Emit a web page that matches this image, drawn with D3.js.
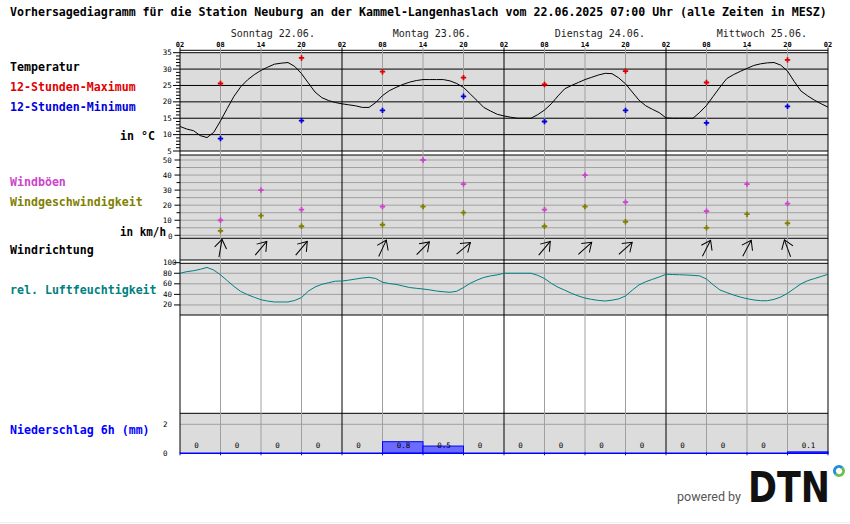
<!DOCTYPE html>
<html><head><meta charset="utf-8">
<script src="https://cdn.jsdelivr.net/npm/d3@7"></script>
<style>body{margin:0;background:#fff}svg{display:block}</style>
</head><body>
<script>
// ---------- DATA ----------
const titleText = "Vorhersagediagramm für die Station Neuburg an der Kammel-Langenhaslach vom 22.06.2025 07:00 Uhr (alle Zeiten in MESZ)";
const timeLabels = ["02","08","14","20","02","08","14","20","02","08","14","20","02","08","14","20","02"];
const dayLabels = ["Sonntag 22.06.","Montag 23.06.","Dienstag 24.06.","Mittwoch 25.06."];
// hourly temperature, hours since Sunday 02:00
const temperature = [12.5,11.7,11.2,9.7,9.1,10.7,14.2,18.0,21.7,24.6,26.7,28.3,29.6,30.6,31.5,31.8,32.0,30.8,28.6,25.8,23.0,21.3,20.4,19.8,
  19.4,19.1,18.8,18.3,18.3,19.8,21.9,23.4,24.4,25.3,26.0,26.5,26.8,26.8,26.8,26.8,26.4,25.6,24.4,22.4,20.4,18.3,17.2,16.2,
  15.7,15.3,15.0,15.0,15.0,16.1,17.5,19.4,21.8,24.0,25.0,25.9,26.8,27.5,28.2,28.7,28.6,27.3,25.5,23.0,20.5,18.8,17.7,16.7,
  15.1,15.0,15.0,15.0,15.0,16.8,18.9,21.7,24.5,27.1,28.3,29.3,30.2,31.1,31.6,31.9,32.0,31.2,29.4,26.2,23.3,21.8,20.5,19.4,18.4];
const extremeHours = [6,18,30,42,54,66,78,90];
const tMax = [25.6,33.4,29.2,27.4,25.3,29.4,25.9,32.8];
const tMin = [8.8,14.3,17.4,21.7,14.0,17.4,13.6,18.6];
const windHours = [6,12,18,30,36,42,54,60,66,78,84,90];
const gusts = [10,30,17,19,50,34,17,40,22,16,34,21];
const windSpeed = [3,13,6,7,19,15,6,19,9,5,14,8];
const windDir = [190,220,220,205,225,230,220,228,228,207,208,160]; // direction wind comes from
const humidity = [80,83,84.8,87.5,91,86,77,66,55,45.5,39.5,34.5,29.8,27.3,25.6,25.6,25.6,28.5,34,46,54,59,62,65,
  65.3,67,69,71,72.3,70,63,60.5,59,56,53,51.5,50.2,48.5,46.4,45,44,46,53,61,67,72,75,77,
  80,80,80,80,80,76,70,61,53.5,48,42,37,33,30.5,28.5,27.5,29,31.5,37,48,58,64,68.5,73,
  78,77.6,77.2,76.7,76,75,69,58,48.3,43.5,38.8,35,31.8,29.5,28,28,30.5,35,42,51,60,66,70,74,78];
const precip = [0,0,0,0,0,0.8,0.5,0,0,0,0,0,0,0,0,0.1];
const tempTicks = [5,10,15,20,25,30,35];
const windTicks = [10,20,30,40,50];
const humTicks = [20,40,60,80,100];
const precTicks = [0,2];

// ---------- LAYOUT ----------
const W = 850, H = 524;
const svg = d3.select("body").append("svg").attr("width", W).attr("height", H);
const mono = "'DejaVu Sans Mono', 'Liberation Mono', monospace";
const x = d3.scaleLinear().domain([0, 96]).range([180, 828]);
const yT = d3.scaleLinear().domain([5, 35]).range([151, 52.7]);
const yW = d3.scaleLinear().domain([0, 50]).range([235.3, 160]);
const yH = d3.scaleLinear().domain([0, 100]).range([315.5, 262.7]);
const yP = d3.scaleLinear().domain([0, 2]).range([453.3, 424.3]);
const x0 = x(0), x1 = x(96);
const GRAY = "#dcdcdc", GRID = "#a0a0a0";

function hline(y, color, w) {
  svg.append("line").attr("x1", x0).attr("x2", x1).attr("y1", y).attr("y2", y)
    .attr("stroke", color).attr("stroke-width", w || 1);
}

// Title
svg.append("text").attr("x", 10).attr("y", 16).attr("font-family", mono).attr("font-weight", "bold")
  .attr("font-size", "11.6px").text(titleText);

// Day labels
svg.selectAll(".day").data(dayLabels).join("text").attr("x", (d, i) => x(24 * i + 7.5)).attr("y", 37)
  .attr("font-family", mono).attr("font-size", "10px").attr("fill", "#222").text(d => d);

// Time labels
svg.selectAll(".tl").data(timeLabels).join("text").attr("x", (d, i) => x(6 * i)).attr("y", 46.5)
  .attr("text-anchor", "middle").attr("font-family", mono).attr("font-size", "7px").attr("font-weight", "bold").text(d => d);

// Panel backgrounds
svg.append("rect").attr("x", x0).attr("y", yT(35)).attr("width", x1 - x0).attr("height", yT(5) - yT(35)).attr("fill", GRAY);
svg.append("rect").attr("x", x0).attr("y", 155).attr("width", x1 - x0).attr("height", 83.3).attr("fill", GRAY);
svg.append("rect").attr("x", x0).attr("y", 238.3).attr("width", x1 - x0).attr("height", 21.7).attr("fill", GRAY);
svg.append("rect").attr("x", x0).attr("y", 263.3).attr("width", x1 - x0).attr("height", 315 - 263.3).attr("fill", GRAY);
svg.append("rect").attr("x", x0).attr("y", 413.3).attr("width", x1 - x0).attr("height", yP(0) - 413.3).attr("fill", GRAY);

// Horizontal grid
hline(50.3, "#000");
d3.range(5, 36, 5).forEach(v => hline(yT(v), "#000"));
d3.range(0, 51, 5).forEach(v => hline(yW(v), GRID));
hline(155, "#000"); hline(238.3, "#000"); hline(260, "#000"); hline(263.3, "#000");
[20, 40, 60, 80].forEach(v => hline(yH(v), GRID));
hline(315, "#000");
hline(yP(2), GRID);
hline(413.3, "#000");

// Vertical grid
svg.selectAll(".vl").data(d3.range(0, 97, 6)).join("line")
  .attr("x1", d => x(d)).attr("x2", d => x(d)).attr("y1", 47.5).attr("y2", yP(0))
  .attr("stroke", d => d % 24 === 0 ? "#000" : GRID).attr("stroke-width", 1);

// Left axes
const axT = d3.range(5, 36, 1);
svg.selectAll(".tt").data(axT).join("line").attr("x1", d => d % 5 === 0 ? 173 : 176).attr("x2", 180)
  .attr("y1", d => yT(d)).attr("y2", d => yT(d)).attr("stroke", "#000");
svg.selectAll(".ttl").data(tempTicks).join("text").attr("x", 171.7).attr("y", d => yT(d) + 2.5)
  .attr("text-anchor", "end").attr("font-family", mono).attr("font-size", "7.5px").text(d => d);
svg.selectAll(".wt").data(d3.range(0, 51, 5)).join("line").attr("x1", d => d % 10 === 0 ? 174.5 : 176.5).attr("x2", 180)
  .attr("y1", d => yW(d)).attr("y2", d => yW(d)).attr("stroke", "#000");
svg.selectAll(".wtl").data(windTicks).join("text").attr("x", 171.7).attr("y", d => yW(d) + 2.5)
  .attr("text-anchor", "end").attr("font-family", mono).attr("font-size", "7.5px").text(d => d);
svg.append("text").attr("x", 172.5).attr("y", yW(0) + 4).attr("text-anchor", "end")
  .attr("font-family", mono).attr("font-size", "7.5px").text("0");
svg.selectAll(".ht").data(humTicks).join("line").attr("x1", 174).attr("x2", 180)
  .attr("y1", d => yH(d)).attr("y2", d => yH(d)).attr("stroke", "#000");
svg.selectAll(".htl").data(humTicks).join("text").attr("x", 163).attr("y", d => yH(d) + 2.5)
  .attr("font-family", mono).attr("font-size", "7.5px").text(d => d);
svg.selectAll(".ptl").data(precTicks).join("text").attr("x", 163).attr("y", d => yP(d) + 2.5)
  .attr("font-family", mono).attr("font-size", "7.5px").text(d => d);

// Left labels
const labels = [
  ["Temperatur", 10, 70.5, "#000"], ["12-Stunden-Maximum", 10, 90.5, "#e00000"], ["12-Stunden-Minimum", 10, 110.5, "#0000dd"],
  ["in °C", 120, 140, "#000"], ["Windböen", 10, 186, "#cc44cc"], ["Windgeschwindigkeit", 10, 205.5, "#808000"],
  ["in km/h", 120, 235.5, "#000"], ["Windrichtung", 10, 253.5, "#000"], ["rel. Luftfeuchtigkeit", 10, 293.5, "#008080"],
  ["Niederschlag 6h (mm)", 10, 434, "#0000ff"]
];
svg.selectAll(".lab").data(labels).join("text").attr("x", d => d[1]).attr("y", d => d[2]).attr("fill", d => d[3])
  .attr("font-family", mono).attr("font-weight", "bold").attr("font-size", "11.6px")
  .attr("textLength", d => d[0] === "in km/h" ? 46 : null).attr("lengthAdjust", "spacingAndGlyphs").text(d => d[0]);

// Temperature curve
svg.append("path").datum(temperature).attr("fill", "none").attr("stroke", "#000").attr("stroke-width", 1)
  .attr("d", d3.line().x((d, i) => x(i)).y(d => yT(d)));
const cross = d3.symbol().type(d3.symbolCross).size(16);
svg.selectAll(".tmax").data(tMax).join("path").attr("d", cross)
  .attr("transform", (d, i) => `translate(${x(extremeHours[i])},${yT(d)})`).attr("fill", "#e00000");
svg.selectAll(".tmin").data(tMin).join("path").attr("d", cross)
  .attr("transform", (d, i) => `translate(${x(extremeHours[i])},${yT(d)})`).attr("fill", "#0000dd");

// Wind
svg.selectAll(".gust").data(gusts).join("path").attr("d", cross)
  .attr("transform", (d, i) => `translate(${x(windHours[i])},${yW(d)})`).attr("fill", "#cc44cc");
svg.selectAll(".ws").data(windSpeed).join("path").attr("d", cross)
  .attr("transform", (d, i) => `translate(${x(windHours[i])},${yW(d)})`).attr("fill", "#808000");

// Wind direction arrows
const arrowG = svg.selectAll(".arr").data(windDir).join("g")
  .attr("transform", (d, i) => `translate(${x(windHours[i])},248.3) rotate(${d + 180})`);
arrowG.append("line").attr("x1", 0).attr("y1", 9).attr("x2", 0).attr("y2", -9).attr("stroke", "#000");
arrowG.append("path").attr("d", () => {
  const a = 35 * Math.PI / 180, L = 10.5;
  return `M${-L * Math.sin(a)},${-9 + L * Math.cos(a)} L0,-9 L${L * Math.sin(a)},${-9 + L * Math.cos(a)}`;
}).attr("fill", "none").attr("stroke", "#000");

// Humidity curve
svg.append("path").datum(humidity).attr("fill", "none").attr("stroke", "#008080").attr("stroke-width", 1)
  .attr("d", d3.line().x((d, i) => x(i)).y(d => yH(d)));

// Precipitation
svg.selectAll(".pb").data(precip).join("rect")
  .attr("x", (d, i) => x(6 * i)).attr("width", x(6) - x(0))
  .attr("y", d => yP(d)).attr("height", d => yP(0) - yP(d))
  .attr("fill", "#6b6bff").attr("stroke", "#0000ff").attr("stroke-width", 1)
  .attr("display", d => d > 0 ? null : "none");
svg.append("line").attr("x1", x0).attr("x2", x1).attr("y1", yP(0)).attr("y2", yP(0)).attr("stroke", "#0000ff").attr("stroke-width", 1.5);
svg.selectAll(".pt").data(d3.range(0, 97, 6)).join("line").attr("x1", d => x(d)).attr("x2", d => x(d))
  .attr("y1", yP(0) - 1).attr("y2", yP(0) + 2).attr("stroke", "#0000ff");
svg.selectAll(".pl").data(precip).join("text").attr("x", (d, i) => x(6 * i + 3) - 6).attr("y", 448)
  .attr("font-family", mono).attr("font-size", "7.5px").text(d => String(d));

// Footer logo
svg.append("text").attr("x", 677).attr("y", 501).attr("font-family", "Roboto, 'Open Sans', sans-serif")
  .attr("font-size", "12.5px").attr("fill", "#555").text("powered by");
svg.append("text").attr("x", 748).attr("y", 502).attr("font-family", "'DejaVu Sans', 'Liberation Sans', sans-serif")
  .attr("font-weight", "bold").attr("font-size", "43px").attr("textLength", 82).attr("lengthAdjust", "spacingAndGlyphs")
  .attr("fill", "#111").text("DTN");
const cx = 839, cy = 471, r = 4.5;
svg.append("path").attr("d", d3.arc()({innerRadius: r - 1.5, outerRadius: r + 1.5, startAngle: -Math.PI * 0.75, endAngle: Math.PI * 0.25}))
  .attr("transform", `translate(${cx},${cy})`).attr("fill", "#1e8fd6");
svg.append("path").attr("d", d3.arc()({innerRadius: r - 1.5, outerRadius: r + 1.5, startAngle: Math.PI * 0.25, endAngle: Math.PI * 1.25}))
  .attr("transform", `translate(${cx},${cy})`).attr("fill", "#6cc04a");
svg.append("line").attr("x1", 0).attr("x2", W).attr("y1", 522.5).attr("y2", 522.5).attr("stroke", "#eeeeee");
</script>
</body></html>
